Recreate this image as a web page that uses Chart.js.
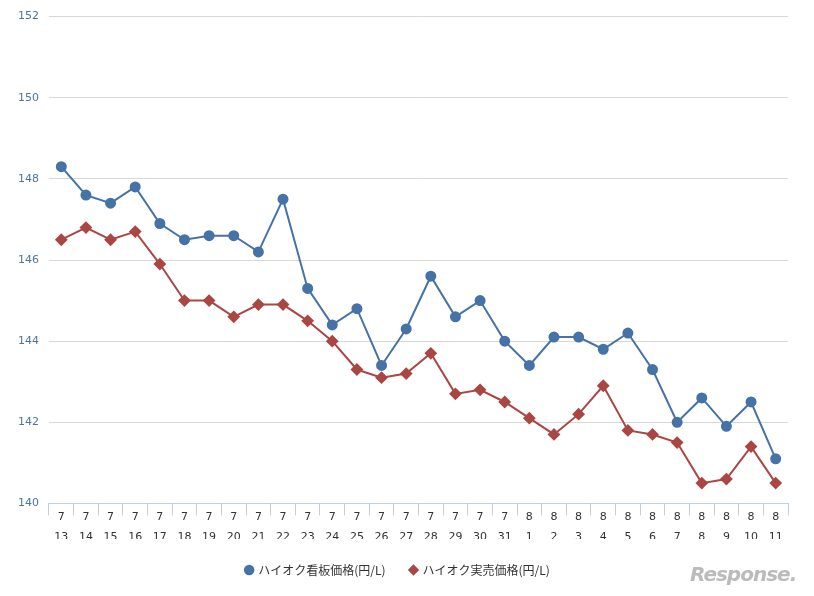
<!DOCTYPE html>
<html><head><meta charset="utf-8">
<script src="https://cdn.jsdelivr.net/npm/chart.js@4/dist/chart.umd.min.js"></script>
<style>body{margin:0;background:#fff}#w{position:relative;width:814px;height:596px}
#logo{position:absolute;left:690px;top:562px;font:italic bold 20px "DejaVu Sans";color:#bbb;letter-spacing:-1px}</style>
</head><body><div id="w"><canvas id="c" width="814" height="596"></canvas><div id="logo">Response.</div></div>
<script>
const categories=[["7","13"],["7","14"],["7","15"],["7","16"],["7","17"],["7","18"],["7","19"],["7","20"],["7","21"],["7","22"],["7","23"],["7","24"],["7","25"],["7","26"],["7","27"],["7","28"],["7","29"],["7","30"],["7","31"],["8","1"],["8","2"],["8","3"],["8","4"],["8","5"],["8","6"],["8","7"],["8","8"],["8","9"],["8","10"],["8","11"]];
const kanban=[148.3,147.6,147.4,147.8,146.9,146.5,146.6,146.6,146.2,147.5,145.3,144.4,144.8,143.4,144.3,145.6,144.6,145.0,144.0,143.4,144.1,144.1,143.8,144.2,143.3,142.0,142.6,141.9,142.5,141.1];
const jitsubai=[146.5,146.8,146.5,146.7,145.9,145.0,145.0,144.6,144.9,144.9,144.5,144.0,143.3,143.1,143.2,143.7,142.7,142.8,142.5,142.1,141.7,142.2,142.9,141.8,141.7,141.5,140.5,140.6,141.4,140.5];
new Chart(document.getElementById('c'),{type:'line',
data:{labels:categories,datasets:[
{label:'ハイオク看板価格(円/L)',data:kanban,borderColor:'#4572A7',backgroundColor:'#4572A7',borderWidth:2,pointRadius:4.5,pointStyle:'circle',tension:0},
{label:'ハイオク実売価格(円/L)',data:jitsubai,borderColor:'#AA4643',backgroundColor:'#AA4643',borderWidth:2,pointRadius:5,pointStyle:'rectRot',tension:0}]},
options:{responsive:false,animation:false,layout:{padding:{left:8,right:26,top:9,bottom:10}},
plugins:{legend:{position:'bottom',labels:{usePointStyle:true,boxWidth:6,boxHeight:6,padding:25,color:'#333',font:{family:'Noto Sans CJK JP',size:12}}},tooltip:{enabled:false}},
scales:{x:{offset:true,grid:{offset:true,drawOnChartArea:false,tickLength:12,color:'#c0d0e0'},border:{color:'#c0d0e0'},ticks:{color:'#333',font:{family:'DejaVu Sans',size:11,lineHeight:1.8},maxRotation:0,autoSkip:false,padding:-8}},
y:{min:140,max:152,ticks:{stepSize:2,color:'#4d759e',font:{family:'DejaVu Sans',size:11},padding:10},grid:{color:'#d8d8d8',drawTicks:false},border:{display:false}}}}});
</script></body></html>
